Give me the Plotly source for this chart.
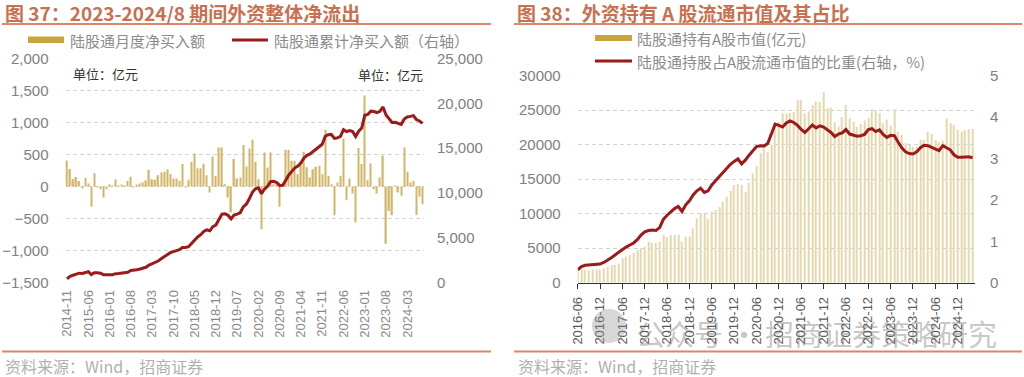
import plotly.graph_objects as go
import pandas as pd

# ---------------- data: left chart (图37) ----------------
months_left = [p.strftime("%Y-%m") for p in pd.period_range("2014-11", "2024-08", freq="M")]
monthly_net_buy = [
    408, 275, 117, 148, 85, -26, 133, 48, -318, 207,
    -10, -40, -170, -42, 37, 5, 115, 10, 26, 10,
    84, 151, -8, 26, 47, 63, 99, 261, 115, 104,
    177, 219, 230, 271, 193, 125, 125, 89, 350, -15,
    104, 386, 517, 287, 287, 355, 177, -94, 470, 167,
    611, 611, 37, -172, -407, 428, 125, 141, 647, 313,
    595, 731, 386, 115, -668, 532, 298, 532, 37, 26,
    -318, 21, 574, 574, 402, 402, 193, 350, 543, 300,
    141, 271, 308, 324, 193, 887, 167, 37, -449, 63,
    167, 741, -214, 125, -110, -564, 600, 350, 1420, 99,
    360, -42, -110, 141, 480, -893, -381, -449, 10, -94,
    -146, 611, 230, 63, 89, -444, -162, -277,
]
cum_net_buy = [
    410, 690, 810, 960, 1040, 1010, 1150, 1200, 880, 1090,
    1080, 1040, 870, 830, 870, 875, 990, 1000, 1030, 1060,
    1150, 1350, 1360, 1420, 1500, 1600, 1700, 1950, 2080, 2200,
    2400, 2650, 2900, 3150, 3330, 3450, 3560, 3660, 3900, 3900,
    4000, 4380, 4820, 5080, 5330, 5690, 5870, 5770, 6240, 6410,
    7020, 7630, 7670, 7500, 7090, 7520, 7640, 7780, 8430, 8740,
    9340, 10070, 10460, 10570, 9900, 10430, 10730, 11260, 11300, 11150,
    10830, 10850, 11420, 12000, 12400, 12800, 13000, 13350, 13900, 14200,
    14340, 14610, 14920, 15240, 15430, 16320, 16490, 16530, 16080, 16140,
    16310, 17050, 16840, 16960, 16850, 16290, 16890, 17240, 18660, 18760,
    19120, 19080, 18970, 19110, 19590, 18700, 18320, 17870, 17880, 17790,
    17640, 18250, 18480, 18540, 18630, 18190, 18030, 17750,
]
left_ticks = ["2014-11", "2015-06", "2016-01", "2016-08", "2017-03", "2017-10",
              "2018-05", "2018-12", "2019-07", "2020-02", "2020-09", "2021-04",
              "2021-11", "2022-06", "2023-01", "2023-08", "2024-03"]

# ---------------- data: right chart (图38) ----------------
months_right = [p.strftime("%Y-%m") for p in pd.period_range("2016-06", "2025-04", freq="M")]
holdings = [
    1590, 1840, 1840, 1790, 1930, 1900, 1950, 2080, 2320, 2560,
    2610, 2800, 3530, 3770, 4010, 4350, 4740, 4980, 5220, 5940,
    5800, 5800, 5950, 6900, 6600, 6900, 6900, 7000, 5940, 6700,
    6700, 7880, 9330, 10050, 10150, 9180, 10290, 10530, 10920, 11740,
    12460, 13290, 14160, 14300, 14160, 13190, 14490, 15850, 16910, 18750,
    19470, 18990, 19950, 23100, 23330, 24550, 24500, 24630, 24700, 26470,
    26470, 24540, 24800, 25700, 26300, 26200, 27590, 25270, 25400, 23300,
    22600, 24000, 25750, 23820, 23330, 22610, 23000, 23500, 23820, 25130,
    25000, 24540, 23100, 23600, 22800, 25130, 21880, 21400, 20200, 19950,
    19710, 19710, 20680, 20700, 21880, 21600, 20680, 20400, 20600, 23820,
    23100, 22900, 22200, 21880, 22120, 22230, 22270,
]
ratio_pct = [
    0.31, 0.39, 0.42, 0.43, 0.43, 0.44, 0.45, 0.49, 0.54, 0.60,
    0.67, 0.74, 0.81, 0.86, 0.91, 0.96, 1.04, 1.15, 1.23, 1.26,
    1.27, 1.26, 1.33, 1.53, 1.63, 1.72, 1.79, 1.84, 1.72, 1.88,
    1.98, 2.12, 2.22, 2.28, 2.18, 2.22, 2.36, 2.46, 2.56, 2.66,
    2.78, 2.86, 2.93, 2.99, 2.87, 2.96, 3.08, 3.19, 3.29, 3.31,
    3.30, 3.36, 3.62, 3.83, 3.80, 3.76, 3.86, 3.91, 3.87, 3.80,
    3.70, 3.63, 3.72, 3.81, 3.74, 3.79, 3.76, 3.70, 3.63, 3.53,
    3.59, 3.62, 3.70, 3.59, 3.56, 3.54, 3.55, 3.58, 3.70, 3.72,
    3.65, 3.69, 3.58, 3.51, 3.56, 3.55, 3.40, 3.26, 3.16, 3.12,
    3.11, 3.16, 3.26, 3.32, 3.31, 3.27, 3.22, 3.19, 3.31, 3.25,
    3.21, 3.09, 3.03, 3.03, 3.03, 3.04, 3.02,
]
right_ticks = ["2016-06", "2016-12", "2017-06", "2017-12", "2018-06", "2018-12",
               "2019-06", "2019-12", "2020-06", "2020-12", "2021-06", "2021-12",
               "2022-06", "2022-12", "2023-06", "2023-12", "2024-06", "2024-12"]

# ---------------- style ----------------
W, H = 1024, 377
def px(x): return x / W
def py(y): return 1 - y / H

GOLD = "#C9A43C"
BAR_L = "#D2B566"
BAR_R = "#E6D8AE"
RED = "#9C1A1A"
TITLE_C = "#C8704F"
RULE_C = "#D9866A"
GRID = "#D3D3D3"
NUM_FONT = "Liberation Sans, Arial, sans-serif"
CJK = "Noto Sans CJK SC, sans-serif"

fig = go.Figure()

fig.add_trace(go.Bar(x=months_left, y=monthly_net_buy, marker_color=BAR_L, marker_line_width=0,
                     width=0.45, xaxis="x", yaxis="y", name="陆股通月度净买入额", showlegend=False))
fig.add_trace(go.Scatter(x=months_left, y=cum_net_buy, mode="lines", line=dict(color=RED, width=3),
                         xaxis="x", yaxis="y2", name="陆股通累计净买入额（右轴）", showlegend=False))
fig.add_trace(go.Bar(x=months_right, y=holdings, marker_color=BAR_R, marker_line_width=0,
                     width=0.28, xaxis="x2", yaxis="y3", name="陆股通持有A股市值(亿元)", showlegend=False))
fig.add_trace(go.Scatter(x=months_right, y=ratio_pct, mode="lines", line=dict(color=RED, width=3),
                         xaxis="x2", yaxis="y4", name="陆股通持股占A股流通市值的比重(右轴，%)", showlegend=False))

tickfont_y = dict(family=NUM_FONT, size=15, color="#808080")

fig.update_layout(
    template="none",
    width=W, height=H, margin=dict(l=0, r=0, t=0, b=0, autoexpand=False),
    paper_bgcolor="white", plot_bgcolor="white",
    font=dict(family=CJK),
    xaxis=dict(domain=[px(65.5), px(424)], range=[-0.5, 117.5], type="category", automargin=False,
               tickmode="array", tickvals=left_ticks, ticktext=left_ticks, tickangle=-90,
               tickfont=dict(family=NUM_FONT, size=13, color="#8a8a8a"),
               showgrid=False, showline=False, zeroline=False, ticks="", anchor="y",
               ticklabelstandoff=4),
    yaxis=dict(domain=[py(282.5), py(58.5)], range=[-1500, 2000], dtick=500, tickformat=",",
               automargin=False, showline=False, ticks="",
               showgrid=True, gridcolor=GRID, griddash="4px,3px", gridwidth=1, zeroline=False,
               tickfont=tickfont_y, anchor="x", ticklabelstandoff=16),
    yaxis2=dict(overlaying="y", side="right", range=[0, 25000], dtick=5000, tickformat=",",
                automargin=False, showline=False, ticks="",
                showgrid=False, zeroline=False, tickfont=tickfont_y, anchor="x",
                ticklabelstandoff=12),
    xaxis2=dict(domain=[px(577.7), px(975)], range=[0, 106.65], type="category", automargin=False,
                tickmode="array", tickvals=right_ticks, ticktext=right_ticks, tickangle=-90,
                tickfont=dict(family=NUM_FONT, size=13, color="#5a5a5a"),
                showgrid=False, showline=True, linecolor="#333333", linewidth=1,
                ticks="outside", ticklen=5, tickcolor="#333333", zeroline=False, anchor="y3",
                ticklabelstandoff=3),
    yaxis3=dict(domain=[py(282.7), py(75.7)], range=[0, 30000], dtick=5000, tickformat="d",
                automargin=False, showline=False, ticks="",
                showgrid=True, gridcolor=GRID, griddash="4px,3px", gridwidth=1, zeroline=False,
                tickfont=tickfont_y, anchor="x2", ticklabelstandoff=16),
    yaxis4=dict(overlaying="y3", side="right", range=[0, 5], dtick=1,
                automargin=False, showline=False, ticks="",
                showgrid=False, zeroline=False, tickfont=tickfont_y, anchor="x2",
                ticklabelstandoff=14),
)

shapes = [
    dict(type="line", xref="paper", yref="paper", x0=px(2), x1=px(491), y0=py(24), y1=py(24),
         line=dict(color=RULE_C, width=2)),
    dict(type="line", xref="paper", yref="paper", x0=px(514), x1=px(1022), y0=py(24), y1=py(24),
         line=dict(color=RULE_C, width=2)),
    dict(type="line", xref="paper", yref="paper", x0=px(2), x1=px(491), y0=py(351.5), y1=py(351.5),
         line=dict(color=RULE_C, width=2)),
    dict(type="line", xref="paper", yref="paper", x0=px(514), x1=px(1022), y0=py(351.5), y1=py(351.5),
         line=dict(color=RULE_C, width=2)),
    dict(type="rect", xref="paper", yref="paper", x0=px(28), x1=px(64), y0=py(43), y1=py(36.5),
         fillcolor=GOLD, line=dict(width=0)),
    dict(type="line", xref="paper", yref="paper", x0=px(232), x1=px(268), y0=py(40), y1=py(40),
         line=dict(color=RED, width=3)),
    dict(type="rect", xref="paper", yref="paper", x0=px(595), x1=px(632), y0=py(41), y1=py(35),
         fillcolor=GOLD, line=dict(width=0)),
    dict(type="line", xref="paper", yref="paper", x0=px(595), x1=px(632), y0=py(61), y1=py(61),
         line=dict(color=RED, width=3)),
    dict(type="circle", xref="paper", yref="paper", x0=px(592), x1=px(626), y0=py(343), y1=py(309),
         fillcolor="rgba(140,140,140,0.35)", line=dict(width=0)),
]

def ann(x, y, text, size, color, family=CJK, xanchor="left"):
    return dict(xref="paper", yref="paper", x=px(x), y=py(y), text=text, showarrow=False,
                xanchor=xanchor, yanchor="middle", font=dict(family=family, size=size, color=color))

annotations = [
    ann(3, 13, "<b>图 37：2023-2024/8 期间外资整体净流出</b>", 19, TITLE_C),
    ann(515, 13, "<b>图 38：外资持有 A 股流通市值及其占比</b>", 19, TITLE_C),
    ann(68, 40, "陆股通月度净买入额", 15, "#8c8c8c"),
    ann(272, 40, "陆股通累计净买入额（右轴）", 15, "#8c8c8c"),
    ann(635, 38, "陆股通持有A股市值(亿元)", 15, "#8c8c8c"),
    ann(635, 61, "陆股通持股占A股流通市值的比重(右轴，%)", 15, "#8c8c8c"),
    ann(71, 73, "单位：亿元", 13, "#333333"),
    ann(356, 75, "单位：亿元", 13, "#333333"),
    ann(3, 366, "资料来源：Wind，招商证券", 16, "#b0b0b0"),
    ann(516, 366, "资料来源：Wind，招商证券", 16, "#b0b0b0"),
    ann(634, 333, "公众号 · 招商证券策略研究", 29, "rgba(110,110,110,0.40)"),
]

fig.update_layout(shapes=shapes, annotations=annotations)
fig.write_html("out.html", config={"displayModeBar": False},
               post_script="document.body.style.margin='0';document.body.style.overflow='hidden';")
